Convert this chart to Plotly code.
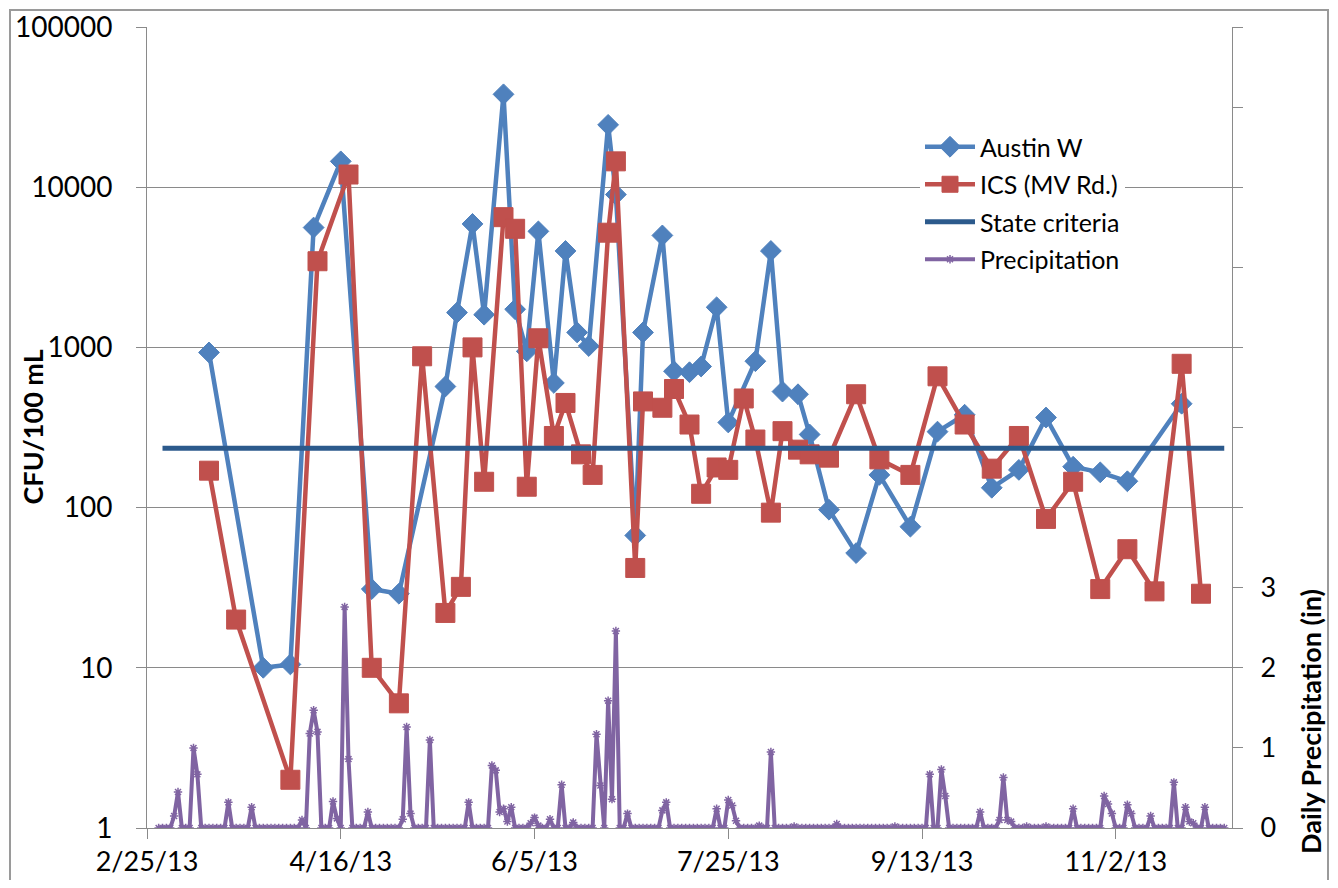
import pandas as pd
import plotly.graph_objects as go

# ---------------- data ----------------
austin_dates = ["2013-03-13", "2013-03-27", "2013-04-03", "2013-04-09", "2013-04-16", "2013-04-24",
                "2013-05-01", "2013-05-13", "2013-05-16", "2013-05-20", "2013-05-23", "2013-05-28",
                "2013-05-31", "2013-06-03", "2013-06-06", "2013-06-10", "2013-06-13", "2013-06-16",
                "2013-06-19", "2013-06-24", "2013-06-26", "2013-07-01", "2013-07-03", "2013-07-08",
                "2013-07-11", "2013-07-15", "2013-07-18", "2013-07-22", "2013-07-25", "2013-08-01",
                "2013-08-05", "2013-08-08", "2013-08-12", "2013-08-15", "2013-08-20", "2013-08-27",
                "2013-09-02", "2013-09-10", "2013-09-17", "2013-09-24", "2013-10-01", "2013-10-08",
                "2013-10-15", "2013-10-22", "2013-10-29", "2013-11-05", "2013-11-19"]
austin_cfu = [930, 10, 10.5, 5600, 14500, 31,
              29, 570, 1650, 5900, 1600, 38000,
              1730, 945, 5300, 600, 4000, 1240,
              1020, 24500, 9000, 67, 1240, 5000,
              710, 700, 760, 1780, 340, 820,
              4000, 530, 510, 286, 97, 52,
              160, 76, 298, 380, 133, 172,
              365, 180, 166, 146, 445]

ics_dates = ["2013-03-13", "2013-03-20", "2013-04-03", "2013-04-10", "2013-04-18", "2013-04-24",
             "2013-05-01", "2013-05-07", "2013-05-13", "2013-05-17", "2013-05-20", "2013-05-23",
             "2013-05-28", "2013-05-31", "2013-06-03", "2013-06-06", "2013-06-10", "2013-06-13",
             "2013-06-17", "2013-06-20", "2013-06-24", "2013-06-26", "2013-07-01", "2013-07-03",
             "2013-07-08", "2013-07-11", "2013-07-15", "2013-07-18", "2013-07-22", "2013-07-25",
             "2013-07-29", "2013-08-01", "2013-08-05", "2013-08-08", "2013-08-12", "2013-08-15",
             "2013-08-20", "2013-08-27", "2013-09-02", "2013-09-10", "2013-09-17", "2013-09-24",
             "2013-10-01", "2013-10-08", "2013-10-15", "2013-10-22", "2013-10-29", "2013-11-05",
             "2013-11-12", "2013-11-19", "2013-11-24"]
ics_cfu = [170, 20, 2, 3450, 12000, 10,
           6, 880, 22, 32, 1000, 145,
           6500, 5500, 135, 1140, 280, 450,
           215, 160, 5200, 14500, 42, 460,
           420, 550, 330, 122, 178, 172,
           480, 266, 93, 300, 230, 215,
           205, 510, 200, 160, 660, 330,
           175, 280, 85, 145, 31, 55,
           30, 790, 29]

state_dates = ["2013-03-01", "2013-11-30"]
state_cfu = [235, 235]

# daily precipitation (in), 2013-02-28 .. 2013-11-30
precip_start = "2013-02-28"
precip_feb = [0]
precip_mar = [0, 0, 0, 0.15, 0.45, 0, 0, 0, 1.0, 0.67,
              0, 0, 0, 0, 0, 0, 0, 0.32, 0, 0,
              0, 0, 0, 0.26, 0, 0, 0, 0, 0, 0, 0]
precip_apr = [0, 0, 0, 0, 0, 0.1, 0, 1.18, 1.47, 1.2,
              0, 0, 0, 0.33, 0.12, 0, 2.76, 0.86, 0, 0,
              0, 0, 0.2, 0, 0, 0, 0, 0, 0, 0]
precip_may = [0, 0.11, 1.26, 0.18, 0, 0, 0, 0, 1.1, 0,
              0, 0, 0, 0, 0, 0, 0, 0, 0.32, 0,
              0, 0, 0, 0, 0.78, 0.72, 0.2, 0.24, 0.08, 0.26, 0]
precip_jun = [0, 0, 0, 0.06, 0.13, 0.03, 0, 0, 0.11, 0,
              0, 0.54, 0, 0, 0.07, 0, 0, 0, 0, 0,
              1.17, 0.53, 0, 1.59, 0.36, 2.46, 0, 0, 0.18, 0]
precip_jul = [0, 0, 0, 0, 0, 0, 0, 0.22, 0.32, 0,
              0, 0, 0, 0, 0, 0, 0, 0, 0, 0,
              0, 0.24, 0, 0, 0.35, 0.28, 0.09, 0, 0, 0, 0]
precip_aug = [0, 0.03, 0, 0, 0.95, 0, 0, 0, 0, 0,
              0.02, 0, 0, 0, 0, 0, 0, 0, 0, 0,
              0, 0.05, 0, 0, 0, 0, 0, 0, 0, 0, 0]
precip_sep = [0, 0, 0, 0, 0, 0.02, 0, 0, 0, 0,
              0, 0, 0, 0, 0.67, 0, 0, 0.73, 0.4, 0,
              0, 0, 0, 0, 0, 0, 0, 0.2, 0, 0]
precip_oct = [0, 0, 0.1, 0.63, 0.1, 0.08, 0, 0, 0, 0.02,
              0, 0, 0, 0, 0.02, 0, 0, 0, 0, 0,
              0, 0.24, 0, 0, 0, 0, 0, 0, 0, 0.4, 0.3]
precip_nov = [0.18, 0, 0, 0, 0.29, 0.18, 0, 0, 0, 0,
              0.15, 0, 0, 0, 0, 0, 0.57, 0, 0, 0.26,
              0.08, 0.06, 0, 0, 0.26, 0, 0, 0, 0, 0]

x_tick_dates = ["2013-02-25", "2013-04-16", "2013-06-05", "2013-07-25", "2013-09-13", "2013-11-02"]
x_tick_labels = ["2/25/13", "4/16/13", "6/5/13", "7/25/13", "9/13/13", "11/2/13"]
y_tick_vals = [1, 10, 100, 1000, 10000, 100000]
y_tick_labels = ["1", "10", "100", "1000", "10000", "100000"]
y2_tick_vals = [0, 1, 2, 3, 4, 5, 6, 7, 8, 9, 10]
y2_tick_labels = ["0", "1", "2", "3", "", "", "", "", "", "", ""]

# ---------------- build ----------------
precip_in = (precip_feb + precip_mar + precip_apr + precip_may + precip_jun +
             precip_jul + precip_aug + precip_sep + precip_oct + precip_nov)
precip_dates = pd.date_range(precip_start, periods=len(precip_in), freq="D")

FONT = "Lato"
GRID = "#8a8a8a"

# page body has an 8px margin: figure is placed at (8, 8)
OFF = 8
W, H = 1338 - 2 * OFF, 888 - 2 * OFF
PL, PR, PT, PB = 147, 1232, 27, 828          # plot area in window pixels
ML, MT = PL - OFF, PT - OFF
MR, MB = (W + OFF) - PR, (H + OFF) - PB
PW, PH = PR - PL, PB - PT


def px_x(x):
    return (x - PL) / PW


def px_y(y):
    return (PB - y) / PH


fig = go.Figure()
fig.add_trace(go.Scatter(
    x=austin_dates, y=austin_cfu, name="Austin W", mode="lines+markers",
    line=dict(color="#4F81BD", width=4.5),
    marker=dict(symbol="diamond", size=16, color="#4F81BD", line=dict(color="#4F81BD", width=1)),
    legendgroup="a"))
fig.add_trace(go.Scatter(
    x=ics_dates, y=ics_cfu, name="ICS (MV Rd.)", mode="lines+markers",
    line=dict(color="#C0504D", width=4.5),
    marker=dict(symbol="square", size=19, color="#C0504D", line=dict(color="#C0504D", width=1)),
    legendgroup="b"))
fig.add_trace(go.Scatter(
    x=state_dates, y=state_cfu, name="State criteria", mode="lines",
    line=dict(color="#2C5A8C", width=5), legendgroup="c"))
fig.add_trace(go.Scatter(
    x=precip_dates, y=precip_in, name="Precipitation", mode="lines+markers", yaxis="y2",
    line=dict(color="#8064A2", width=4),
    marker=dict(symbol="asterisk-open", size=7, color="#8064A2", line=dict(color="#8064A2", width=1.5)),
    legendgroup="d"))

fig.update_layout(
    width=W, height=H, autosize=False,
    margin=dict(l=ML, r=MR, t=MT, b=MB, autoexpand=False),
    paper_bgcolor="white", plot_bgcolor="white",
    font=dict(family=FONT, color="black"),
    showlegend=True,
    legend=dict(x=px_x(920), y=px_y(124), xanchor="left", yanchor="top", bgcolor="white",
                font=dict(family=FONT, size=25, color="black"), tracegroupgap=2,
                itemwidth=50),
    xaxis=dict(type="date", range=["2013-02-25", "2013-12-02"],
               tickvals=x_tick_dates, ticktext=x_tick_labels,
               tickfont=dict(family=FONT, size=27, color="black"),
               showgrid=False, showline=True, linecolor=GRID, linewidth=1,
               ticks="outside", ticklen=10, tickcolor=GRID, zeroline=False,
               automargin=False),
    yaxis=dict(type="log", range=[0, 5], tickvals=y_tick_vals, ticktext=y_tick_labels,
               tickfont=dict(family=FONT, size=28, color="black"),
               showgrid=True, gridcolor=GRID, gridwidth=1,
               showline=True, linecolor=GRID, linewidth=1,
               ticks="outside", ticklen=10, tickcolor=GRID, ticklabelstandoff=18,
               zeroline=False, automargin=False),
    yaxis2=dict(overlaying="y", side="right", range=[0, 10],
                tickvals=y2_tick_vals, ticktext=y2_tick_labels,
                tickfont=dict(family=FONT, size=27, color="black"),
                showgrid=False, showline=True, linecolor=GRID, linewidth=1,
                ticks="outside", ticklen=10, tickcolor=GRID, ticklabelstandoff=12,
                zeroline=False, automargin=False),
)

fig.add_annotation(text="<b>CFU/100 mL</b>", xref="paper", yref="paper",
                   x=px_x(32), y=0.5, textangle=-90, showarrow=False,
                   xanchor="center", yanchor="middle",
                   font=dict(family=FONT, size=27, color="black"))
fig.add_annotation(text="<b>Daily Precipitation (in)</b>", xref="paper", yref="paper",
                   x=px_x(1310), y=px_y(722), textangle=-90, showarrow=False,
                   xanchor="center", yanchor="middle",
                   font=dict(family=FONT, size=27, color="black"))

# outer chart frame (inside the figure area)
fig.add_shape(type="rect", xref="paper", yref="paper",
              x0=px_x(10), x1=px_x(1328), y0=px_y(900), y1=px_y(10),
              line=dict(color="#9a9a9a", width=2), layer="below")

fig.write_html("out.html")
